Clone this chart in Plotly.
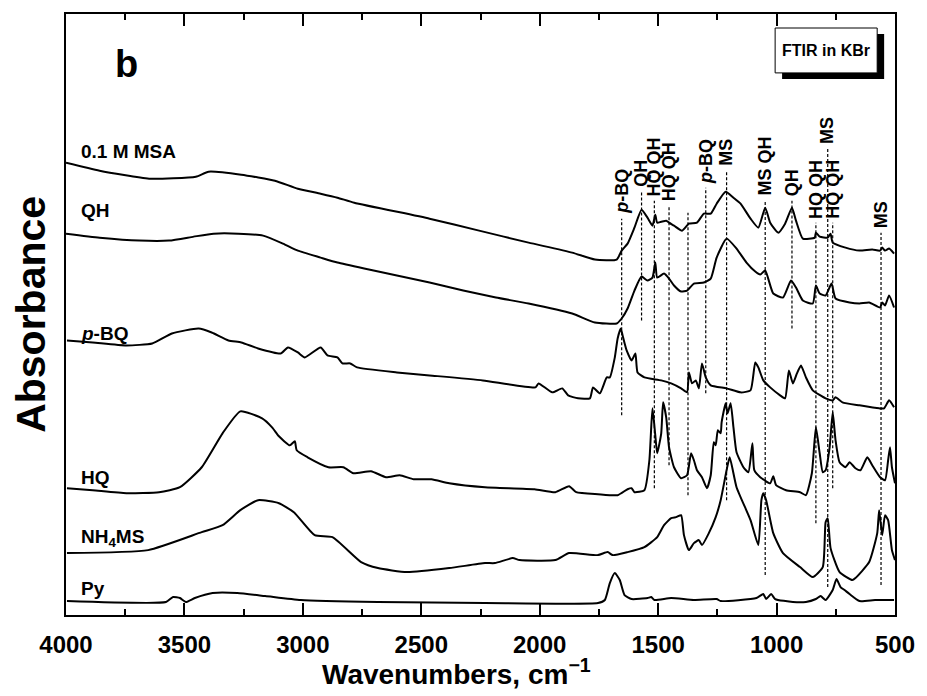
import plotly.graph_objects as go

FONT = "Arial, 'Liberation Sans', Helvetica, sans-serif"

# ---------------- data: wavenumber (cm-1) and absorbance (a.u., stacked offsets) ----------------
wn_msa = [4000, 3858, 3649, 3452, 3398, 3260, 3118, 3021, 2925, 2854, 2783, 2465, 2256, 2047, 1863, 1767,
          1675, 1654, 1629, 1600, 1570, 1545, 1524, 1512, 1504, 1466, 1454, 1433, 1399, 1370, 1336, 1307,
          1278, 1253, 1215, 1182, 1152, 1110, 1077, 1048, 1027, 993, 964, 935, 918, 889, 839, 834, 818,
          784, 772, 763, 709, 650, 596, 563, 554, 542, 525, 504]
ab_msa = [453, 445, 437, 439, 444, 441, 435, 427, 422, 418, 413, 397, 385, 373, 363, 356,
          356, 365, 372, 388, 406, 398, 390, 401, 393, 395, 393, 390, 385, 392, 393, 402,
          402, 412, 424, 418, 412, 397, 388, 408, 393, 383, 392, 408, 395, 377, 378, 383, 379,
          378, 382, 373, 368, 365, 366, 365, 368, 365, 367, 362]

wn_qh = [4000, 3858, 3691, 3565, 3461, 3377, 3272, 3168, 3084, 3021, 2925, 2854, 2741, 2603, 2465, 2323,
         2185, 2047, 1863, 1767, 1675, 1654, 1629, 1600, 1570, 1545, 1524, 1512, 1504, 1475, 1454, 1433,
         1403, 1378, 1349, 1307, 1278, 1253, 1211, 1169, 1127, 1090, 1069, 1048, 1014, 973, 939, 918,
         889, 847, 834, 818, 793, 768, 751, 692, 650, 609, 563, 554, 542, 525, 504]
ab_qh = [382, 378, 375, 375, 379, 382, 382, 380, 372, 365, 358, 353, 347, 340, 333, 325,
         318, 312, 302, 293, 292, 297, 307, 325, 339, 335, 338, 353, 338, 342, 337, 330,
         324, 325, 332, 333, 337, 358, 377, 367, 353, 344, 341, 345, 322, 318, 335, 328,
         315, 312, 330, 322, 320, 332, 317, 313, 312, 313, 308, 313, 310, 320, 308]

wn_pbq = [3996, 3887, 3745, 3636, 3553, 3440, 3385, 3314, 3260, 3189, 3093, 3063, 3021, 2992, 2925, 2896,
          2854, 2833, 2800, 2771, 2603, 2465, 2240, 2018, 2005, 1947, 1905, 1880, 1838, 1788, 1775, 1746,
          1717, 1704, 1683, 1671, 1658, 1650, 1633, 1612, 1596, 1587, 1558, 1487, 1445, 1403, 1378, 1370,
          1357, 1341, 1328, 1315, 1299, 1278, 1211, 1152, 1110, 1090, 1077, 1056, 1027, 985, 964, 948,
          931, 914, 897, 876, 847, 793, 763, 751, 722, 650, 567, 546, 525, 504]
ab_pbq = [275, 273, 270, 272, 282, 287, 283, 275, 273, 267, 262, 268, 263, 258, 268, 260,
          258, 252, 252, 248, 243, 240, 235, 228, 232, 223, 227, 220, 217, 217, 228, 222,
          238, 238, 258, 277, 287, 280, 265, 255, 262, 243, 238, 235, 232, 227, 223, 243,
          232, 235, 227, 252, 238, 230, 227, 223, 225, 253, 248, 235, 228, 220, 217, 245,
          232, 242, 250, 238, 225, 217, 215, 218, 213, 210, 207, 207, 215, 208]

wn_hq = [3996, 3887, 3745, 3607, 3519, 3427, 3339, 3264, 3172, 3130, 3101, 3055, 3034, 3026, 2980, 2892,
         2829, 2787, 2712, 2649, 2591, 2532, 2457, 2382, 2231, 2022, 1934, 1876, 1846, 1754, 1671, 1629,
         1612, 1600, 1558, 1537, 1524, 1512, 1504, 1487, 1479, 1466, 1454, 1433, 1403, 1378, 1361, 1349,
         1336, 1315, 1294, 1278, 1265, 1257, 1248, 1236, 1232, 1215, 1207, 1194, 1182, 1169, 1140, 1119,
         1102, 1094, 1069, 1027, 1014, 1002, 960, 901, 876, 851, 834, 818, 805, 793, 776, 763, 751, 734,
         709, 692, 667, 646, 617, 596, 563, 542, 529, 521, 513, 500]
ab_hq = [127, 125, 122, 123, 128, 148, 182, 204, 197, 188, 179, 170, 174, 165, 158, 148,
         148, 142, 144, 138, 140, 136, 136, 132, 128, 126, 123, 129, 123, 121, 120, 126,
         127, 123, 125, 155, 207, 180, 162, 182, 213, 198, 168, 148, 137, 140, 162, 155,
         145, 138, 127, 140, 173, 170, 185, 182, 193, 212, 202, 212, 188, 163, 148, 143,
         172, 145, 138, 132, 139, 130, 125, 123, 120, 142, 188, 162, 143, 145, 168, 203, 175, 153,
         148, 153, 147, 145, 158, 150, 138, 135, 155, 168, 148, 132]

wn_nh4 = [3996, 3653, 3427, 3339, 3264, 3189, 3101, 3038, 2950, 2875, 2754, 2683, 2561, 2382, 2231, 2189,
          2114, 2085, 1934, 1876, 1754, 1713, 1692, 1629, 1558, 1504, 1475, 1445, 1424, 1403, 1391, 1370,
          1349, 1328, 1315, 1286, 1257, 1236, 1211, 1198, 1169, 1110, 1077, 1064, 1056, 1044, 1014, 973,
          901, 847, 805, 793, 784, 772, 734, 680, 667, 609, 575, 567, 554, 542, 529, 513, 500]
ab_nh4 = [62, 65, 83, 90, 105, 115, 112, 103, 80, 78, 53, 47, 43, 47, 52, 52,
          57, 55, 55, 62, 60, 63, 60, 63, 68, 78, 90, 97, 98, 100, 80, 65,
          72, 75, 70, 82, 98, 115, 145, 158, 128, 95, 70, 115, 122, 115, 82, 62,
          48, 38, 48, 93, 97, 67, 43, 35, 37, 53, 82, 105, 80, 100, 95, 65, 55]

wn_py = [3996, 3578, 3548, 3519, 3494, 3456, 3381, 3277, 3159, 3009, 2683, 2231, 1754, 1725, 1704, 1683,
         1662, 1642, 1612, 1545, 1529, 1516, 1445, 1349, 1253, 1236, 1085, 1056, 1044, 1023, 1006, 931,
         876, 834, 814, 793, 763, 747, 730, 713, 692, 650, 584, 504]
ab_py = [14, 13, 18, 17, 13, 17, 22, 22, 19, 15, 13, 12, 12, 15, 32, 42,
         35, 20, 16, 17, 18, 15, 17, 15, 16, 14, 17, 21, 16, 21, 16, 13,
         13, 16, 19, 15, 25, 36, 28, 25, 21, 14, 15, 15]

# curve labels (text, absorbance level of label)
curve_names = ["0.1 M MSA", "QH", "<i>p</i>-BQ", "HQ", "NH<sub>4</sub>MS", "Py"]
curve_label_y = [464, 405, 282, 138, 77, 27]

# assignment marks: label, wavenumber, label-bottom, dashed line top, dashed line bottom
mark_text = ["<i>p</i>-BQ", "QH", "HQ QH", "HQ QH", "", "<i>p</i>-BQ", "MS", "MS QH", "QH",
             "HQ QH", "MS", "HQ QH", "MS"]
mark_wn = [1654, 1570, 1516, 1454, 1374, 1299, 1211, 1048, 935, 834, 784, 763, 559]
mark_lab_y = [400, 427, 417, 412, 0, 430, 448, 418, 418, 395, 470, 395, 385]
mark_top = [397, 425, 415, 410, 403, 428, 445, 415, 415, 393, 467, 393, 383]
mark_bot = [200, 295, 127, 150, 120, 222, 115, 40, 287, 92, 28, 127, 30]

x_ticks = [4000, 3500, 3000, 2500, 2000, 1500, 1000, 500]

# ---------------- figure ----------------
fig = go.Figure()
for wn, ab in [(wn_msa, ab_msa), (wn_qh, ab_qh), (wn_pbq, ab_pbq), (wn_hq, ab_hq),
               (wn_nh4, ab_nh4), (wn_py, ab_py)]:
    fig.add_trace(go.Scatter(x=wn, y=ab, mode="lines",
                             line=dict(color="black", width=2, shape="spline", smoothing=0.5),
                             showlegend=False, hoverinfo="skip"))

ann = []
for name, y in zip(curve_names, curve_label_y):
    ann.append(dict(x=3945, y=y, xref="x", yref="y", text=f"<b>{name}</b>", showarrow=False,
                    xanchor="left", yanchor="middle", font=dict(family=FONT, size=19, color="black")))

shapes = []
for t, w, ly, top, bot in zip(mark_text, mark_wn, mark_lab_y, mark_top, mark_bot):
    shapes.append(dict(type="line", xref="x", yref="y", x0=w, x1=w, y0=bot, y1=top,
                       line=dict(color="black", width=1.2, dash="3px,2px")))
    if t:
        ann.append(dict(x=w, y=ly, xref="x", yref="y", text=f"<b>{t}</b>", showarrow=False,
                        textangle=-90, xanchor="center", yanchor="bottom",
                        font=dict(family=FONT, size=18, color="black")))

# panel letter
ann.append(dict(x=3745, y=552, xref="x", yref="y", text="<b>b</b>", showarrow=False,
                xanchor="center", yanchor="middle",
                font=dict(family=FONT, size=38, color="black")))
# axis titles
ann.append(dict(x=-0.043, y=0.5, xref="paper", yref="paper", text="<b>Absorbance</b>",
                showarrow=False, textangle=-90, xanchor="center", yanchor="middle",
                font=dict(family=FONT, size=41, color="black")))
ann.append(dict(x=0.4707, y=-0.0947, xref="paper", yref="paper",
                text="<b>Wavenumbers, cm<sup>−1</sup></b>", showarrow=False,
                xanchor="center", yanchor="middle", font=dict(family=FONT, size=28, color="black")))

# FTIR in KBr box with shadow
shapes.append(dict(type="rect", xref="paper", yref="paper", x0=0.8638, x1=0.9869, y0=0.892, y1=0.9668,
                   fillcolor="black", line=dict(width=0)))
shapes.append(dict(type="rect", xref="paper", yref="paper", x0=0.8554, x1=0.9785, y0=0.902, y1=0.9767,
                   fillcolor="white", line=dict(color="black", width=1)))
ann.append(dict(x=0.917, y=0.939, xref="paper", yref="paper", text="<b>FTIR in KBr</b>",
                showarrow=False, xanchor="center", yanchor="middle",
                font=dict(family=FONT, size=16, color="black")))

fig.update_layout(
    width=927, height=696,
    margin=dict(l=66, r=24, t=13, b=81),
    paper_bgcolor="white", plot_bgcolor="white",
    font=dict(family=FONT, color="black"),
    annotations=ann, shapes=shapes,
    xaxis=dict(range=[4000, 500], tickvals=x_ticks, ticktext=[f"<b>{v}</b>" for v in x_ticks],
               ticks="inside", ticklen=12, tickwidth=2, tickcolor="black",
               minor=dict(dtick=250, ticks="inside", ticklen=6, tickwidth=2, tickcolor="black"),
               showline=True, linewidth=2, linecolor="black", mirror="ticks",
               showgrid=False, zeroline=False,
               tickfont=dict(family=FONT, size=24, color="black"), ticklabelstandoff=7),
    yaxis=dict(range=[0, 602], showticklabels=False, ticks="", showline=True, linewidth=2,
               linecolor="black", mirror=True, showgrid=False, zeroline=False),
)

fig.write_html("out.html")
